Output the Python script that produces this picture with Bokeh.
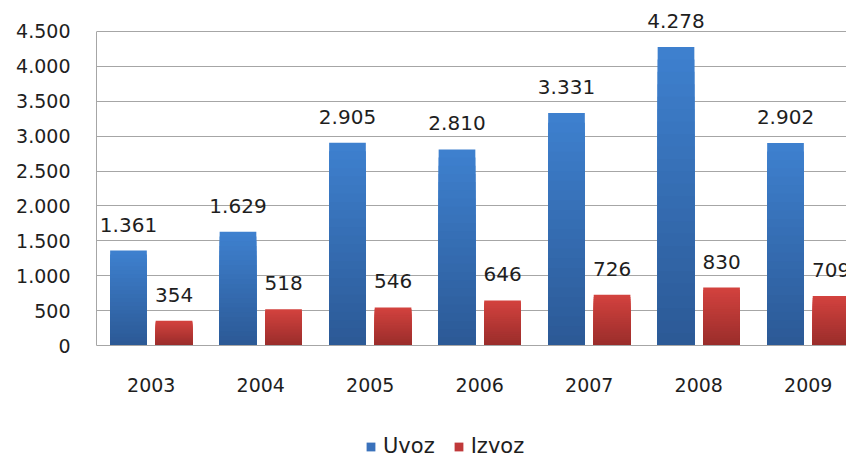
from bokeh.plotting import figure
from bokeh.models import Range1d, FixedTicker, Legend, LegendItem
from bokeh.core.properties import value
from bokeh.embed import file_html
from bokeh.resources import INLINE

years = ["2003", "2004", "2005", "2006", "2007", "2008", "2009"]
uvoz = [1361, 1629, 2905, 2810, 3331, 4278, 2902]
izvoz = [354, 518, 546, 646, 726, 830, 709]
uvoz_labels = ["1.361", "1.629", "2.905", "2.810", "3.331", "4.278", "2.902"]
izvoz_labels = ["354", "518", "546", "646", "726", "830", "709"]
y_ticks = [0, 500, 1000, 1500, 2000, 2500, 3000, 3500, 4000, 4500]
y_tick_labels = ["0", "500", "1.000", "1.500", "2.000", "2.500", "3.000", "3.500", "4.000", "4.500"]

FONT = "DejaVu Sans"
TXT = "#1e1e1e"
GRID = "#a6a6a6"

p = figure(width=846, height=458, output_backend="svg", toolbar_location=None,
           x_range=Range1d(0, 6.849), y_range=Range1d(-1619, 4944),
           min_border_left=96, min_border_right=0, min_border_top=0, min_border_bottom=0)
p.outline_line_color = None
p.background_fill_color = "white"
p.border_fill_color = "white"
p.xgrid.visible = False
p.ygrid.ticker = FixedTicker(ticks=y_ticks)
p.ygrid.grid_line_color = GRID
p.ygrid.grid_line_width = 1

xc = [i + 0.5 for i in range(len(years))]
xu = [x - 0.208 for x in xc]
xi = [x + 0.208 for x in xc]
W = 0.335


def lerp(c1, c2, t):
    return "#%02x%02x%02x" % tuple(int(round(a + (b - a) * t)) for a, b in zip(c1, c2))


def gradient_bars(xs, vals, top_c, bot_c, n=24):
    base = p.vbar(x=xs, top=vals, width=W, fill_color=lerp(top_c, bot_c, 0.0), line_color=None)
    for k in range(1, n):
        t = k / n
        p.vbar(x=xs, top=[v * (1 - t) for v in vals], width=W,
               fill_color=lerp(top_c, bot_c, t), line_color=None)
    return base


r_u = gradient_bars(xu, uvoz, (62, 128, 206), (43, 88, 148))
r_i = gradient_bars(xi, izvoz, (210, 66, 62), (152, 44, 42))

# legend swatches (mid-tone colours, drawn as zero-height bars)
l_u = p.vbar(x=[xu[0]], top=[0], width=0, fill_color="#3a72bc", line_color=None)
l_i = p.vbar(x=[xi[0]], top=[0], width=0, fill_color="#c0393a", line_color=None)

p.text(x=xu, y=uvoz, text=uvoz_labels, text_align="center", text_baseline="alphabetic",
       y_offset=-26, text_font=value(FONT), text_font_size="20px", text_color=TXT)
p.text(x=xi, y=izvoz, text=izvoz_labels, text_align="center", text_baseline="alphabetic",
       y_offset=-26, text_font=value(FONT), text_font_size="20px", text_color=TXT)

# axes
p.yaxis.ticker = FixedTicker(ticks=y_ticks)
p.yaxis.major_label_overrides = {t: l for t, l in zip(y_ticks, y_tick_labels)}
p.yaxis.bounds = (0, 4500)
p.yaxis.axis_line_color = GRID
p.yaxis.major_tick_line_color = None
p.yaxis.minor_tick_line_color = None
p.yaxis.major_label_standoff = 20
p.yaxis.major_label_text_font = FONT
p.yaxis.major_label_text_font_size = "19px"
p.yaxis.major_label_text_color = TXT

p.xaxis.fixed_location = 0
p.xaxis.ticker = FixedTicker(ticks=xc)
p.xaxis.major_label_overrides = {x: y for x, y in zip(xc, years)}
p.xaxis.axis_line_color = GRID
p.xaxis.major_tick_line_color = None
p.xaxis.minor_tick_line_color = None
p.xaxis.major_label_standoff = 26
p.xaxis.major_label_text_font = FONT
p.xaxis.major_label_text_font_size = "19px"
p.xaxis.major_label_text_color = TXT

legend = Legend(items=[LegendItem(label="Uvoz", renderers=[l_u]),
                       LegendItem(label="Izvoz", renderers=[l_i])],
                location=(269, 0), orientation="horizontal",
                glyph_width=11, glyph_height=11, label_standoff=7, spacing=18,
                padding=0, margin=0, border_line_color=None, background_fill_alpha=0,
                label_text_font=FONT, label_text_font_size="21px", label_text_color=TXT,
                label_height=20)
p.add_layout(legend, "center")

open("out.html", "w").write(file_html(p, INLINE))
